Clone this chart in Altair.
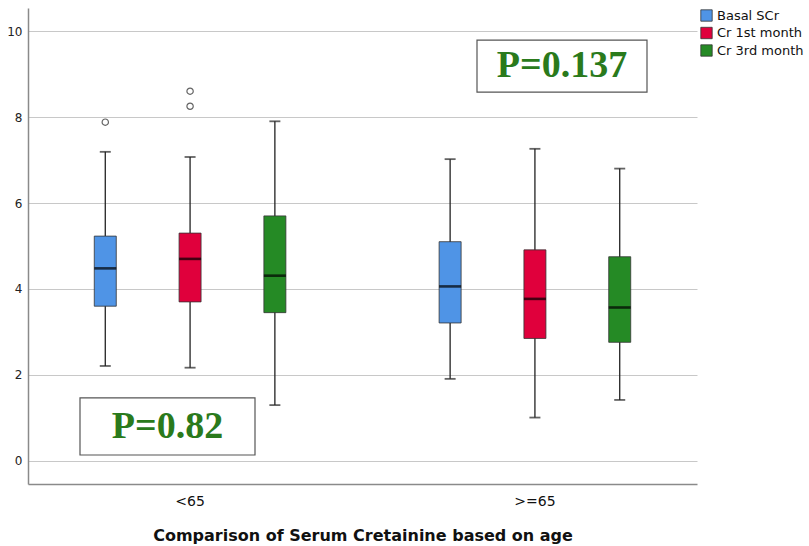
import altair as alt
import pandas as pd

# Summary statistics of serum creatinine per age group and time point
groups = ["<65", "<65", "<65", ">=65", ">=65", ">=65"]
series = ["Basal SCr", "Cr 1st month", "Cr 3rd month"] * 2
whisker_low = [2.21, 2.17, 1.30, 1.91, 1.01, 1.42]
q1 = [3.60, 3.70, 3.45, 3.21, 2.85, 2.76]
median = [4.48, 4.70, 4.31, 4.06, 3.77, 3.57]
q3 = [5.23, 5.30, 5.70, 5.10, 4.91, 4.75]
whisker_high = [7.19, 7.07, 7.90, 7.02, 7.26, 6.80]

# Outliers
out_group = ["<65", "<65", "<65"]
out_series = ["Basal SCr", "Cr 1st month", "Cr 1st month"]
out_value = [7.88, 8.25, 8.60]

series_order = ["Basal SCr", "Cr 1st month", "Cr 3rd month"]
series_colors = ["#4f94e6", "#e0003c", "#258a25"]
group_order = ["<65", ">=65"]

# P-value annotations: label, y of box bottom / top, text y
p_labels = ["P=0.82", "P=0.137"]
p_y_low = [0.14, 8.58]
p_y_high = [1.47, 9.79]
p_y_text = [0.80, 9.18]

stats = pd.DataFrame({
    "group": groups, "series": series, "low": whisker_low, "q1": q1,
    "median": median, "q3": q3, "high": whisker_high,
})
outliers = pd.DataFrame({"group": out_group, "series": out_series, "value": out_value})

y_scale = alt.Scale(domain=[-0.535, 10.535], nice=False, zero=False)
x_enc = alt.X(
    "group:N", sort=group_order,
    scale=alt.Scale(paddingInner=0.1, paddingOuter=0.02),
    axis=alt.Axis(title="Comparison of Serum Cretainine based on age", labelAngle=0),
)
xoff_enc = alt.XOffset(
    "series:N", sort=series_order,
    scale=alt.Scale(paddingInner=0, paddingOuter=0.33),
)
color_scale = alt.Scale(domain=series_order, range=series_colors)

base = alt.Chart(stats).encode(x=x_enc, xOffset=xoff_enc)

whiskers = base.mark_rule(color="#222222", strokeWidth=1.3).encode(
    y=alt.Y("low:Q", scale=y_scale, axis=alt.Axis(title=None, values=[0, 2, 4, 6, 8, 10])),
    y2="high:Q",
)
cap_low = base.mark_tick(color="#222222", size=11, thickness=1.8).encode(y="low:Q")
cap_high = base.mark_tick(color="#222222", size=11, thickness=1.8).encode(y="high:Q")

boxes = base.mark_bar(size=22, stroke="#333333", strokeWidth=0.8).encode(
    y="q1:Q", y2="q3:Q",
    color=alt.Color(
        "series:N", sort=series_order, scale=color_scale,
        legend=alt.Legend(
            title=None, orient="none", legendX=672, legendY=1,
            symbolType="square", symbolSize=130, symbolStrokeColor="#333333",
            symbolStrokeWidth=0.8, symbolOpacity=1, labelFontSize=13,
            labelFont="DejaVu Sans", labelColor="#111111", rowPadding=2.5,
            labelOffset=4, symbolOffset=0,
        ),
    ),
)
medians = base.mark_tick(color="#000000", size=22, thickness=2.6).encode(y="median:Q")

points = alt.Chart(outliers).mark_point(
    shape="circle", filled=False, color="#222222", size=40, strokeWidth=1.2
).encode(x=x_enc, xOffset=xoff_enc, y="value:Q")

pvals = pd.DataFrame({"label": p_labels, "ylo": p_y_low, "yhi": p_y_high, "yt": p_y_text,
                      "x1": [52, 449], "x2": [227, 619], "xc": [139.5, 534]})

p_boxes = alt.Chart(pvals).mark_rect(
    fill="white", stroke="#555555", strokeWidth=1.2
).encode(
    x=alt.X("x1:Q", scale=alt.Scale(domain=[0, 667], range=[0, 667]), axis=None),
    x2="x2:Q", y="ylo:Q", y2="yhi:Q",
)
p_text = alt.Chart(pvals).mark_text(
    font="Liberation Serif", fontWeight="bold", fontSize=38, color="#2a7a1c",
    baseline="middle", align="center",
).encode(
    x=alt.X("xc:Q", scale=alt.Scale(domain=[0, 667], range=[0, 667]), axis=None),
    y="yt:Q", text="label:N",
)

boxlayer = alt.layer(whiskers, cap_low, cap_high, boxes, medians, points)
annot = alt.layer(p_boxes, p_text)

chart = alt.layer(boxlayer, annot).resolve_scale(x="independent").properties(
    width=669, height=476,
    background="white",
    autosize=alt.AutoSizeParams(type="none"),
    padding={"left": 28, "top": 8, "right": 112, "bottom": 62},
).configure_view(strokeWidth=0).configure_axis(
    grid=False, labelFont="DejaVu Sans", titleFont="DejaVu Sans",
).configure_axisY(
    grid=True, gridColor="#c8c8c8", gridWidth=1, ticks=False, domainColor="#8a8a8a",
    domainWidth=1.5, labelFontSize=12, labelColor="#222222", labelPadding=6,
).configure_axisX(
    ticks=False, domainColor="#8a8a8a", domainWidth=1.5, labelFontSize=14,
    labelColor="#111111", labelPadding=10, titleFontSize=16, titleFontWeight="bold",
    titleColor="#111111", titlePadding=19,
)

chart.save("out.html", embed_options={"renderer": "svg", "actions": False})
